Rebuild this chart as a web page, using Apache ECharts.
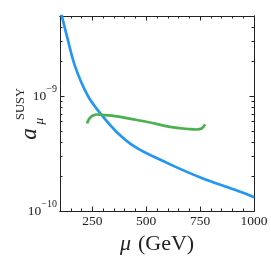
<!DOCTYPE html>
<html><head><meta charset="utf-8">
<script src="https://cdn.jsdelivr.net/npm/echarts@6/dist/echarts.min.js"></script>
<style>html,body{margin:0;padding:0;background:#fff}#c{width:271px;height:271px}</style>
</head><body><div id="c"></div>
<script>
// Blue curve (decreasing)
const muBlue = [100, 109, 130, 170, 230, 290, 364, 448, 601, 757, 912, 1000];
const aBlue  = [5.89e-9, 4.96e-9, 3.46e-9, 1.82e-9, 1.0e-9, 6.97e-10, 4.86e-10, 3.62e-10, 2.60e-10, 1.94e-10, 1.53e-10, 1.32e-10];
// Green curve
const muGreen = [225, 232, 241, 253, 272, 309, 356, 434, 517, 610, 703, 734, 757, 773];
const aGreen  = [5.79e-10, 6.2e-10, 6.53e-10, 6.79e-10, 6.93e-10, 6.84e-10, 6.70e-10, 6.31e-10, 5.90e-10, 5.41e-10, 5.16e-10, 5.13e-10, 5.23e-10, 5.68e-10];
// Ticks
const xMajorTicks = [250, 500, 750, 1000];
const xMinorTicks = [150, 200, 300, 350, 400, 450, 550, 600, 650, 700, 800, 850, 900, 950];
const yMajorTicks = [1e-10, 1e-9];
const yMinorTicks = [2e-10, 3e-10, 4e-10, 5e-10, 6e-10, 7e-10, 8e-10, 9e-10, 2e-9, 3e-9, 4e-9, 5e-9];
const xRange = [100, 1000];
const yRange = [1e-10, 5e-9];

const FF = 'Liberation Serif';
const AX = '#222';
const lg = v => Math.log10(v);
const yMin = lg(yRange[0]), yMax = lg(yRange[1]);

function xAx(pos, ticks, len, labels) {
  return {
    type: 'value', position: pos, min: xRange[0], max: xRange[1],
    axisLine: {show: true, lineStyle: {color: AX, width: 1}},
    axisTick: {show: true, inside: true, length: len, customValues: ticks, lineStyle: {color: AX, width: 1}},
    axisLabel: labels ? {show: true, customValues: ticks, margin: 3, color: '#222', fontFamily: FF, fontSize: 13.5, formatter: v => String(v)} : {show: false},
    splitLine: {show: false}
  };
}
function yAx(pos, ticks, len, labels) {
  return {
    type: 'value', position: pos, min: yMin, max: yMax,
    axisLine: {show: true, lineStyle: {color: AX, width: 1}},
    axisTick: {show: true, inside: true, length: len, customValues: ticks.map(lg), lineStyle: {color: AX, width: 1}},
    axisLabel: labels ? {
      show: true, customValues: ticks.map(lg), margin: 3, color: '#222',
      formatter: v => '{b|10}{s|\u2212' + Math.round(-v) + '}',
      rich: {
        b: {fontFamily: FF, fontSize: 13.5, lineHeight: 16, color: '#222'},
        s: {fontFamily: FF, fontSize: 10, lineHeight: 10, padding: [0, 0, 14, 0], color: '#222'}
      }
    } : {show: false},
    splitLine: {show: false}
  };
}

const xAxes = [
  xAx('bottom', xMajorTicks, 4.5, true),
  xAx('bottom', xMinorTicks, 2.5, false),
  xAx('top', xMajorTicks, 4.5, false),
  xAx('top', xMinorTicks, 2.5, false)
];
xAxes[0].name = '{i|\u03bc}{n|(GeV)}';
xAxes[0].nameLocation = 'middle';
xAxes[0].nameGap = 21;
xAxes[0].nameTextStyle = {rich: {
  i: {fontFamily: FF, fontStyle: 'italic', fontSize: 22, color: '#222', padding: [0, 7, 0, 0]},
  n: {fontFamily: FF, fontSize: 22, color: '#222'}
}};

const yAxes = [
  yAx('left', yMajorTicks, 4.5, true),
  yAx('left', yMinorTicks, 2.5, false),
  yAx('right', yMajorTicks, 4.5, false),
  yAx('right', yMinorTicks, 2.5, false)
];

const chart = echarts.init(document.getElementById('c'), null, {renderer: 'canvas'});
chart.setOption({
  animation: false,
  backgroundColor: '#fff',
  grid: {left: 60, right: 17, top: 16, bottom: 60, containLabel: false},
  xAxis: xAxes,
  yAxis: yAxes,
  graphic: [
    {type: 'text', x: 30, y: 134, rotation: Math.PI / 2,
     style: {text: 'a', fontFamily: FF, fontStyle: 'italic', fontSize: 23, fill: '#222', align: 'center', verticalAlign: 'middle'}},
    {type: 'text', x: 39.5, y: 121, rotation: Math.PI / 2,
     style: {text: '\u03bc', fontFamily: FF, fontStyle: 'italic', fontSize: 13.5, fill: '#222', align: 'center', verticalAlign: 'middle'}},
    {type: 'text', x: 21, y: 104, rotation: Math.PI / 2,
     style: {text: 'SUSY', fontFamily: FF, fontSize: 12.5, fill: '#222', align: 'center', verticalAlign: 'middle'}}
  ],
  series: [
    {type: 'line', xAxisIndex: 0, yAxisIndex: 0, smooth: 0.35, showSymbol: false, clip: true,
     lineStyle: {color: '#2196F3', width: 2.7},
     data: muBlue.map((m, i) => [m, lg(aBlue[i])])},
    {type: 'line', xAxisIndex: 0, yAxisIndex: 0, smooth: 0.4, showSymbol: false, clip: true,
     lineStyle: {color: '#4CAF50', width: 2.7},
     data: muGreen.map((m, i) => [m, lg(aGreen[i])])}
  ]
});
</script></body></html>
